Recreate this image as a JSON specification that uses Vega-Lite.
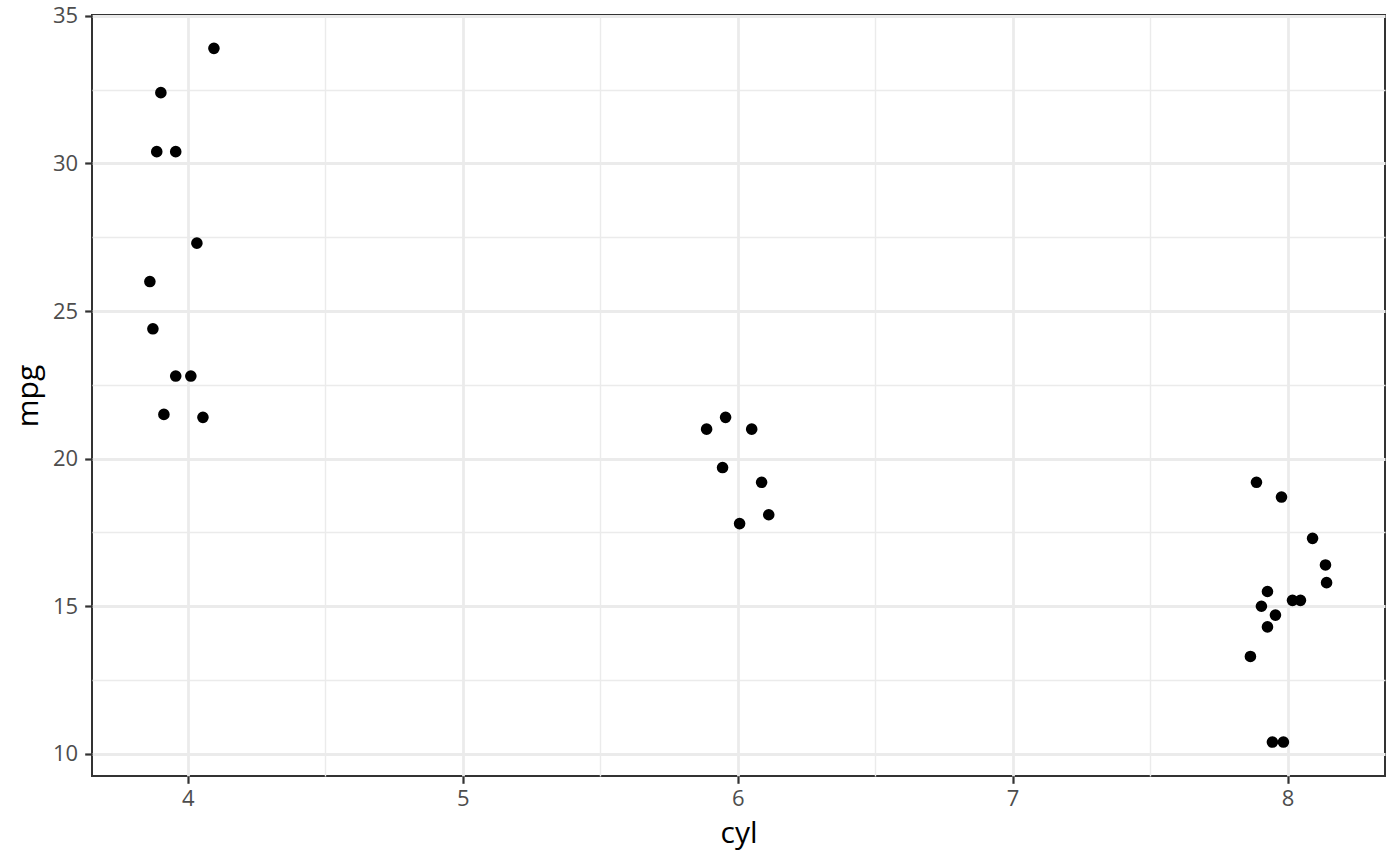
{
  "$schema": "https://vega.github.io/schema/vega-lite/v6.json",
  "width": 1293,
  "height": 761,
  "autosize": "none",
  "padding": {"left": 92, "top": 15, "right": 15, "bottom": 90},
  "background": "white",
  "config": {
    "font": "Open Sans",
    "view": {"stroke": "#333333", "strokeWidth": 2},
    "axis": {
      "domain": false,
      "gridColor": "#EBEBEB",
      "tickColor": "#333333",
      "tickSize": 7.3,
      "labelColor": "#4D4D4D",
      "labelFont": "Open Sans",
      "labelFontSize": 22,
      "titleFont": "Open Sans",
      "titleFontSize": 30,
      "titleFontWeight": "normal",
      "titleColor": "#000000",
      "labelOverlap": false,
      "labelFlush": false
    }
  },
  "data": {
    "values": [
      {"cyl": 4.095, "mpg": 33.9},
      {"cyl": 3.902, "mpg": 32.4},
      {"cyl": 3.887, "mpg": 30.4},
      {"cyl": 3.956, "mpg": 30.4},
      {"cyl": 4.033, "mpg": 27.3},
      {"cyl": 3.862, "mpg": 26.0},
      {"cyl": 3.873, "mpg": 24.4},
      {"cyl": 3.956, "mpg": 22.8},
      {"cyl": 4.011, "mpg": 22.8},
      {"cyl": 3.913, "mpg": 21.5},
      {"cyl": 4.055, "mpg": 21.4},
      {"cyl": 5.887, "mpg": 21.0},
      {"cyl": 5.956, "mpg": 21.4},
      {"cyl": 6.051, "mpg": 21.0},
      {"cyl": 5.945, "mpg": 19.7},
      {"cyl": 6.087, "mpg": 19.2},
      {"cyl": 6.007, "mpg": 17.8},
      {"cyl": 6.113, "mpg": 18.1},
      {"cyl": 7.887, "mpg": 19.2},
      {"cyl": 7.978, "mpg": 18.7},
      {"cyl": 8.091, "mpg": 17.3},
      {"cyl": 8.138, "mpg": 16.4},
      {"cyl": 8.142, "mpg": 15.8},
      {"cyl": 7.927, "mpg": 15.5},
      {"cyl": 7.905, "mpg": 15.0},
      {"cyl": 8.018, "mpg": 15.2},
      {"cyl": 8.047, "mpg": 15.2},
      {"cyl": 7.956, "mpg": 14.7},
      {"cyl": 7.927, "mpg": 14.3},
      {"cyl": 7.865, "mpg": 13.3},
      {"cyl": 7.945, "mpg": 10.4},
      {"cyl": 7.985, "mpg": 10.4}
    ]
  },
  "mark": {"type": "circle", "size": 135, "color": "#000000", "opacity": 1},
  "encoding": {
    "x": {
      "field": "cyl",
      "type": "quantitative",
      "title": "cyl",
      "scale": {"domain": [3.6515, 8.3545], "nice": false, "zero": false},
      "axis": {
        "values": [4, 4.5, 5, 5.5, 6, 6.5, 7, 7.5, 8],
        "labelExpr": "datum.value % 1 === 0 ? format(datum.value, 'd') : ''",
        "tickOpacity": {"condition": {"test": "datum.value % 1 === 0", "value": 1}, "value": 0},
        "tickWidth": 2.2,
        "gridWidth": {"condition": {"test": "datum.value % 1 === 0", "value": 2.8}, "value": 1.4},
        "labelPadding": 5,
        "titlePadding": 9
      }
    },
    "y": {
      "field": "mpg",
      "type": "quantitative",
      "title": "mpg",
      "scale": {"domain": [9.25, 35.03], "nice": false, "zero": false},
      "axis": {
        "values": [10, 12.5, 15, 17.5, 20, 22.5, 25, 27.5, 30, 32.5, 35],
        "labelExpr": "datum.value % 5 === 0 ? format(datum.value, 'd') : ''",
        "tickOpacity": {"condition": {"test": "datum.value % 5 === 0", "value": 1}, "value": 0},
        "tickWidth": 2.2,
        "gridWidth": {"condition": {"test": "datum.value % 5 === 0", "value": 2.8}, "value": 1.4},
        "labelPadding": 7,
        "titlePadding": 9
      }
    }
  }
}
